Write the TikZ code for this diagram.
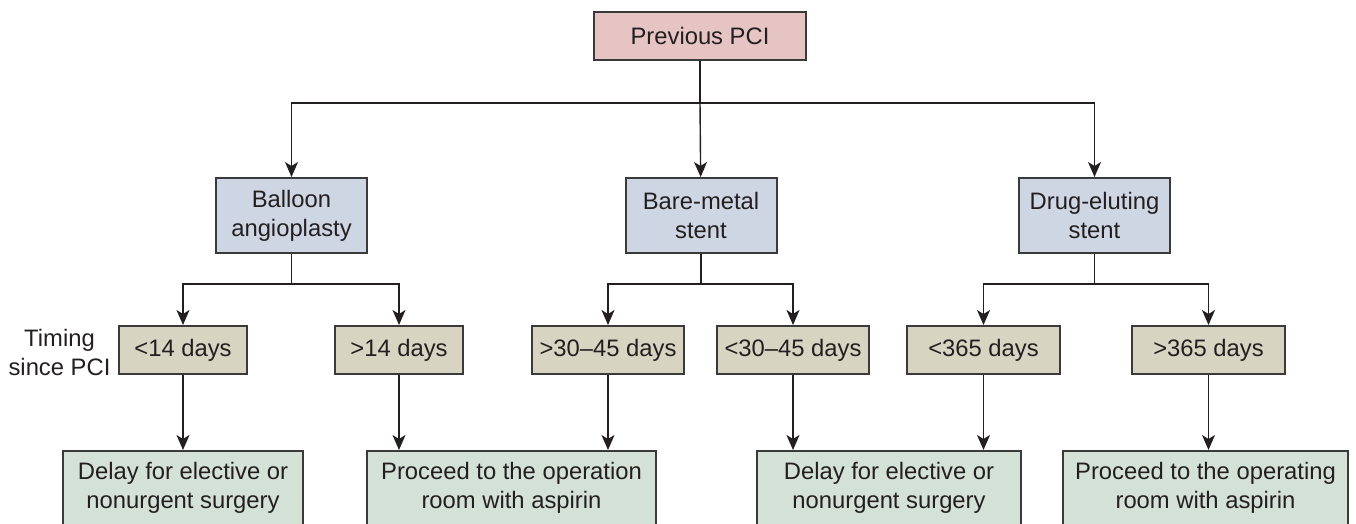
\documentclass[tikz,border=0pt]{standalone}
\usepackage{fontspec}
\setmainfont{Liberation Sans}
\usetikzlibrary{arrows.meta}
\definecolor{txt}{HTML}{231F20}
\definecolor{edge}{HTML}{3A3A3A}
\definecolor{pinkbox}{HTML}{E6C4C3}
\definecolor{bluebox}{HTML}{CED6E4}
\definecolor{khakibox}{HTML}{D7D4C1}
\definecolor{greenbox}{HTML}{D4E1D7}
\begin{document}
\begin{tikzpicture}[x=1pt,y=-1pt,
  every node/.style={font=\fontsize{23.8}{29}\selectfont, text=txt, align=center, inner sep=0pt},
  boxbase/.style={draw=edge, line width=2pt, rectangle},
  topbox/.style={boxbase, fill=pinkbox, minimum width=212pt, minimum height=48pt},
  typebox/.style={boxbase, fill=bluebox, minimum width=151pt, minimum height=75pt},
  timebox/.style={boxbase, fill=khakibox, minimum height=48pt},
  actbox/.style={boxbase, fill=greenbox, minimum height=74pt},
  link/.style={draw=txt, line width=1.4pt},
  arr/.style={link, -{Stealth[length=15pt,width=13pt,inset=4pt]}}
]
\useasboundingbox (0,0) rectangle (1356,523);

% top
\node[topbox] (pci) at (700,36) {Previous PCI};

% level 2
\node[typebox] (bal) at (291.5,215.5) {Balloon\\angioplasty};
\node[typebox] (bms) at (701,215.5) {Bare-metal\\stent};
\node[typebox] (des) at (1094.5,215.5) {Drug-eluting\\stent};

% level 3
\node[timebox, minimum width=128pt] (t1) at (183,350) {<14 days};
\node[timebox, minimum width=128pt] (t2) at (399,350) {>14 days};
\node[timebox, minimum width=152pt] (t3) at (608,350) {>30--45 days};
\node[timebox, minimum width=152pt] (t4) at (793,350) {<30--45 days};
\node[timebox, minimum width=153pt] (t5) at (983.5,350) {<365 days};
\node[timebox, minimum width=153pt] (t6) at (1208.5,350) {>365 days};

\node[align=center] (timing) at (59.5,352) {Timing\\since PCI};

% level 4
\node[actbox, minimum width=240pt] (b1) at (183,488) {Delay for elective or\\nonurgent surgery};
\node[actbox, minimum width=289pt] (b2) at (511.5,488) {Proceed to the operation\\room with aspirin};
\node[actbox, minimum width=264pt] (b3) at (889,488) {Delay for elective or\\nonurgent surgery};
\node[actbox, minimum width=285pt] (b4) at (1205.5,488) {Proceed to the operating\\room with aspirin};

% connectors top -> level 2
\coordinate (j0) at (700,103);
\draw[link] (pci) -- (j0);
\draw[arr] (j0) -| (bal);
\draw[arr] (j0) -| (des);
\draw[arr] (j0) -- (bms);

% level 2 -> level 3
\coordinate (jb) at (291.5,284);
\coordinate (jm) at (701,284);
\coordinate (jd) at (1094.5,284);
\draw[link] (bal) -- (jb);
\draw[link] (bms) -- (jm);
\draw[link] (des) -- (jd);
\draw[arr] (jb) -| (t1);
\draw[arr] (jb) -| (t2);
\draw[arr] (jm) -| (t3);
\draw[arr] (jm) -| (t4);
\draw[arr] (jd) -| (t5);
\draw[arr] (jd) -| (t6);

% level 3 -> level 4
\draw[arr] (t1) -- (t1 |- b1.north);
\draw[arr] (t2) -- (t2 |- b2.north);
\draw[arr] (t3) -- (t3 |- b2.north);
\draw[arr] (t4) -- (t4 |- b3.north);
\draw[arr] (t5) -- (t5 |- b3.north);
\draw[arr] (t6) -- (t6 |- b4.north);
\end{tikzpicture}
\end{document}
